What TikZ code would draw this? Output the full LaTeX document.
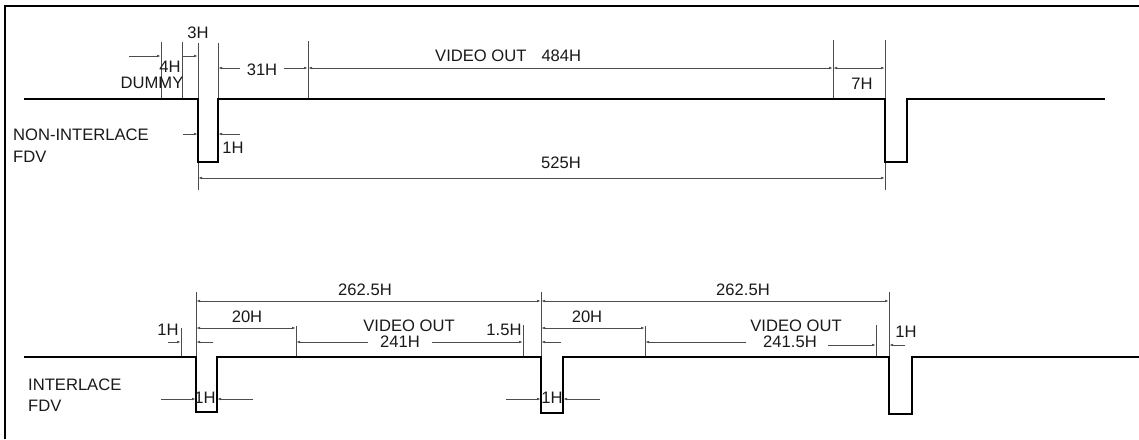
\documentclass[tikz,border=0pt]{standalone}
\usepackage{fontspec}
\setmainfont{Liberation Sans}
\usetikzlibrary{arrows.meta}
\begin{document}
\begin{tikzpicture}[x=1pt,y=-1pt,
  sig/.style={line width=2.4pt, line join=miter},
  frame/.style={line width=2.5pt},
  ext/.style={line width=0.9pt, draw=black!70},
  dim/.style={line width=0.9pt, draw=black!70},
  arr/.style={dim,-{Latex[length=4pt,width=2.6pt]}},
  darr/.style={dim,{Latex[length=4pt,width=2.6pt]}-{Latex[length=4pt,width=2.6pt]}},
  lab/.style={font=\fontsize{16.6}{19}\selectfont, inner sep=0pt, text=black!90},
  lft/.style={lab, anchor=west}]
\useasboundingbox (0,0) rectangle (1139,439);
% frame
\coordinate (fb) at (5,439); \coordinate (fc) at (5,6); \coordinate (fr) at (1139,6);
\draw[frame] (fb) -- (fc) -- (fr);

% ===== NON-INTERLACE =====
\coordinate (a0) at (24,99);
\coordinate (a1) at (198,99);  \coordinate (a2) at (198,162);
\coordinate (a3) at (218,162); \coordinate (a4) at (218,99);
\coordinate (a5) at (885,99);  \coordinate (a6) at (885,162);
\coordinate (a7) at (907,162); \coordinate (a8) at (907,99);
\coordinate (a9) at (1105,99);
% extension lines
\coordinate (e161t) at (161,42); \coordinate (e161b) at (161,99);
\coordinate (e182t) at (182,42); \coordinate (e182b) at (182,99);
\coordinate (e198t) at (198,43); \coordinate (e198b) at (198,190);
\coordinate (e218t) at (218,43); \coordinate (e218b) at (218,99);
\coordinate (e308t) at (308,41); \coordinate (e308b) at (308,99);
\coordinate (e833t) at (833,40); \coordinate (e833b) at (833,99);
\coordinate (e885t) at (885,40); \coordinate (e885b) at (885,190);
\foreach \n in {161,182,198,218,308,833,885} \draw[ext] (e\n t) -- (e\n b);
% dimensions
\coordinate (d4s) at (129,56); \coordinate (d4e) at (161,56);
\draw[arr] (d4s) -- (d4e);
\coordinate (d3s) at (182,56); \coordinate (d3e) at (198,56);
\draw[arr] (d3s) -- (d3e);
\coordinate (d31a) at (218,68); \coordinate (d31b) at (240,68);
\coordinate (d31c) at (284,68); \coordinate (d31d) at (308,68);
\draw[arr] (d31b) -- (d31a);
\draw[arr] (d31c) -- (d31d);
\coordinate (d484e) at (833,68);
\draw[darr] (d31d) -- (d484e);
\coordinate (d7e) at (885,68);
\draw[darr] (d484e) -- (d7e);
\coordinate (d1l) at (183,134); \coordinate (d1le) at (198,134);
\coordinate (d1r) at (240,134); \coordinate (d1re) at (218,134);
\draw[arr] (d1l) -- (d1le);
\draw[arr] (d1r) -- (d1re);
\coordinate (d525s) at (198,178); \coordinate (d525e) at (885,178);
\draw[darr] (d525s) -- (d525e);
% signal
\draw[sig] (a0) -- (a1) -- (a2) -- (a3) -- (a4) -- (a5) -- (a6) -- (a7) -- (a8) -- (a9);
% labels
\node[lab] (l3h) at (198,33) {3H};
\node[lab] (l4h) at (170,67) {4H};
\node[lab] (ldum) at (152,83) {DUMMY};
\node[lab] (l31) at (262,70) {31H};
\node[lab,anchor=west] (lvo) at (435,56) {VIDEO OUT\hspace{15pt}484H};
\node[lab] (l7h) at (862,84) {7H};
\node[lab] (l1h) at (233,148) {1H};
\node[lab] (l525) at (561,163) {525H};
\node[lft] (lni) at (13,135) {NON-INTERLACE};
\node[lft] (lnf) at (13,157) {FDV};

% ===== INTERLACE =====
\coordinate (b0) at (24,357);
\coordinate (b1) at (196,357);  \coordinate (b2) at (196,412);
\coordinate (b3) at (217,412);  \coordinate (b4) at (217,357);
\coordinate (b5) at (541,357);  \coordinate (b6) at (541,413);
\coordinate (b7) at (563,413);  \coordinate (b8) at (563,357);
\coordinate (b9) at (889,357);  \coordinate (b10) at (889,414);
\coordinate (b11) at (912,414); \coordinate (b12) at (912,357);
\coordinate (b13) at (1139,357);
% extension lines
\coordinate (f181t) at (181,328); \coordinate (f181b) at (181,357);
\coordinate (f196t) at (196,292); \coordinate (f196b) at (196,357);
\coordinate (f296t) at (296,326); \coordinate (f296b) at (296,357);
\coordinate (f523t) at (523,325); \coordinate (f523b) at (523,357);
\coordinate (f541t) at (541,292); \coordinate (f541b) at (541,357);
\coordinate (f645t) at (645,326); \coordinate (f645b) at (645,357);
\coordinate (f876t) at (876,325); \coordinate (f876b) at (876,357);
\coordinate (f889t) at (889,292); \coordinate (f889b) at (889,357);
\foreach \n in {181,196,296,523,541,645,876,889} \draw[ext] (f\n t) -- (f\n b);
% 262.5H
\coordinate (g1) at (196,301); \coordinate (g2) at (541,301); \coordinate (g3) at (889,301);
\draw[darr] (g1) -- (g2);
\draw[darr] (g2) -- (g3);
% 20H
\coordinate (h1) at (196,328); \coordinate (h2) at (296,328);
\coordinate (h3) at (541,328); \coordinate (h4) at (645,328);
\draw[darr] (h1) -- (h2);
\draw[darr] (h3) -- (h4);
% 1H left
\coordinate (i1) at (168,342); \coordinate (i2) at (181,342);
\coordinate (i3) at (213,342); \coordinate (i4) at (196,342);
\draw[arr] (i1) -- (i2);
\draw[arr] (i3) -- (i4);
% 241H
\coordinate (j1) at (296,342); \coordinate (j2) at (368,342);
\coordinate (j3) at (432,342); \coordinate (j4) at (523,342);
\draw[arr] (j2) -- (j1);
\draw[arr] (j3) -- (j4);
% 1.5H
\coordinate (k1) at (561,342); \coordinate (k2) at (541,342);
\draw[arr] (k1) -- (k2);
% 241.5H
\coordinate (m1) at (645,342); \coordinate (m2) at (746,342);
\coordinate (m3) at (828,345); \coordinate (m4) at (876,345);
\draw[arr] (m2) -- (m1);
\draw[arr] (m3) -- (m4);
% 1H right
\coordinate (o1) at (905,345); \coordinate (o2) at (889,345);
\draw[arr] (o1) -- (o2);
% 1H pulses
\coordinate (p1) at (161,399); \coordinate (p2) at (196,399);
\coordinate (p3) at (253,399); \coordinate (p4) at (217,399);
\coordinate (p5) at (506,399); \coordinate (p6) at (541,399);
\coordinate (p7) at (600,399); \coordinate (p8) at (563,399);
\draw[arr] (p1) -- (p2);
\draw[arr] (p3) -- (p4);
\draw[arr] (p5) -- (p6);
\draw[arr] (p7) -- (p8);
% signal
\draw[sig] (b0) -- (b1) -- (b2) -- (b3) -- (b4) -- (b5) -- (b6) -- (b7) -- (b8) -- (b9) -- (b10) -- (b11) -- (b12) -- (b13);
% labels
\node[lab] (q1) at (365,290) {262.5H};
\node[lab] (q2) at (743,290) {262.5H};
\node[lab] (q3) at (168,330) {1H};
\node[lab] (q4) at (247,317) {20H};
\node[lab] (q5) at (587,317) {20H};
\node[lab] (q6) at (409,326) {VIDEO OUT};
\node[lab] (q7) at (400,342) {241H};
\node[lab] (q8) at (504,330) {1.5H};
\node[lab] (q9) at (796,326) {VIDEO OUT};
\node[lab] (q10) at (790,342) {241.5H};
\node[lab] (q11) at (906,332) {1H};
\node[lab] (q12) at (205,398) {1H};
\node[lab] (q13) at (552,398) {1H};
\node[lft] (q14) at (28,385) {INTERLACE};
\node[lft] (q15) at (28,406) {FDV};
\end{tikzpicture}
\end{document}
